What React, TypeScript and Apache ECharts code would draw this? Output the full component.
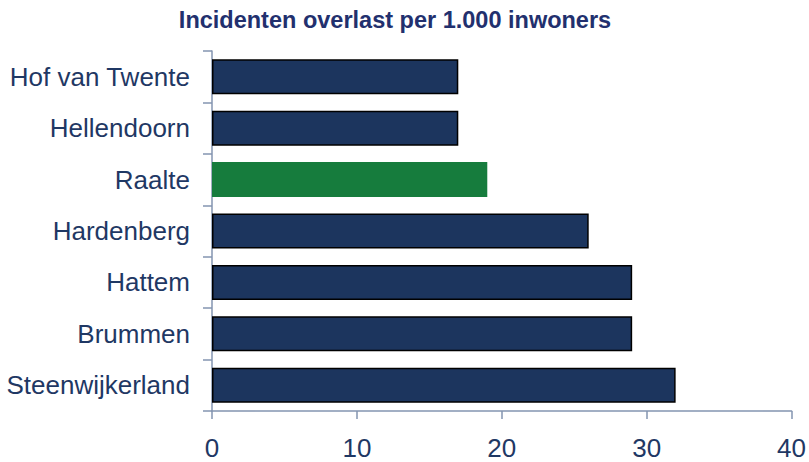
import React, { useEffect, useRef } from "react";
import * as echarts from "echarts";

const title = "Incidenten overlast per 1.000 inwoners";
const categories = [
  "Hof van Twente",
  "Hellendoorn",
  "Raalte",
  "Hardenberg",
  "Hattem",
  "Brummen",
  "Steenwijkerland",
];
const values = [17, 17, 19, 26, 29, 29, 32];
const highlight = "Raalte";
const xTicks = [0, 10, 20, 30, 40];

const NAVY = "#1c355e";
const GREEN = "#167c3d";
const TEXT = "#1f3864";
const AXIS = "#8394b0";
const FONT = "Liberation Sans, Arial, sans-serif";

export default function App() {
  const ref = useRef<HTMLDivElement>(null);
  useEffect(() => {
    if (!ref.current) return;
    const chart = echarts.init(ref.current, null, { renderer: "svg" });
    chart.setOption({
      animation: false,
      backgroundColor: "#ffffff",
      title: {
        text: title,
        left: 390,
        top: 3,
        textAlign: "center",
        textStyle: {
          fontFamily: FONT,
          fontSize: 23.5,
          fontWeight: "bold",
          color: "#22306e",
        },
      },
      grid: { left: 212, right: 15, top: 51, bottom: 51, containLabel: false },
      xAxis: {
        type: "value",
        min: xTicks[0],
        max: xTicks[xTicks.length - 1],
        interval: 10,
        splitLine: { show: false },
        axisLine: { show: true, lineStyle: { color: AXIS, width: 1.5 } },
        axisTick: { show: true, length: 8, lineStyle: { color: AXIS, width: 1.5 } },
        axisLabel: {
          margin: 27,
          lineHeight: 20,
          color: TEXT,
          fontSize: 26,
          fontFamily: FONT,
        },
      },
      yAxis: {
        type: "category",
        data: categories,
        inverse: true,
        axisLine: { show: true, lineStyle: { color: AXIS, width: 1.5 } },
        axisTick: { show: true, length: 9, lineStyle: { color: AXIS, width: 1.5 } },
        axisLabel: {
          margin: 22,
          color: TEXT,
          fontSize: 26,
          fontFamily: FONT,
        },
      },
      series: [
        {
          type: "bar",
          barCategoryGap: "32%",
          data: values.map((v, i) =>
            categories[i] === highlight
              ? { value: v, itemStyle: { color: GREEN, borderWidth: 0 } }
              : { value: v, itemStyle: { color: NAVY, borderColor: "#000000", borderWidth: 1.5 } }
          ),
        },
      ],
    });
    return () => chart.dispose();
  }, []);
  return (
    <div
      ref={ref}
      style={{ position: "absolute", left: 0, top: 0, width: 809, height: 462 }}
    />
  );
}
